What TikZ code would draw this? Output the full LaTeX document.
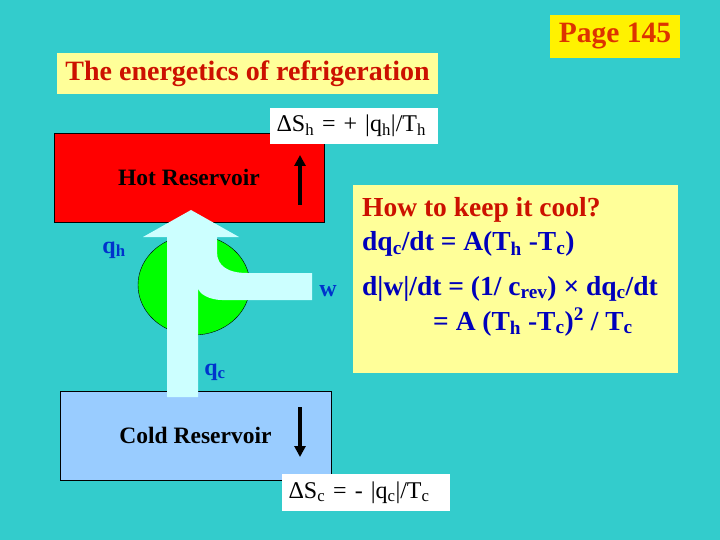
\documentclass[tikz,border=0pt]{standalone}
\usepackage{fontspec}
\setmainfont{Liberation Serif}
\usetikzlibrary{arrows.meta, shapes.geometric, positioning}

\definecolor{slidebg}{HTML}{33CCCC}
\definecolor{paleyellow}{HTML}{FFFF99}
\definecolor{hotred}{HTML}{FF0000}
\definecolor{coldblue}{HTML}{99CCFF}
\definecolor{flowblue}{HTML}{CCFFFF}
\definecolor{enggreen}{HTML}{00FF00}
\definecolor{titlered}{HTML}{CC1100}
\definecolor{pagered}{HTML}{DD3300}
\definecolor{eqblue}{HTML}{0000BB}
\definecolor{labelblue}{HTML}{0033CC}

\newcommand{\lo}[1]{\textsubscript{#1}}
\newcommand{\fs}[1]{\fontsize{#1}{#1}\selectfont}

\tikzset{
  reservoir/.style={draw=black, thin, inner sep=0pt, font=\fs{23.5}\bfseries},
  entropybox/.style={fill=white, inner ysep=0pt, inner xsep=6.5pt, text width=155pt,
                     align=left, font=\fs{24}},
  flowlabel/.style={text=labelblue, font=\fs{24}\bfseries, inner sep=0pt},
  eqline/.style={anchor=base west, inner sep=0pt, text=eqblue, font=\fs{27.5}\bfseries},
  entropyarrow/.style={line width=4pt, -{Triangle[length=11pt,width=11pt]}}
}

\begin{document}
\begin{tikzpicture}[x=1pt,y=-1pt]
\useasboundingbox (0,0) rectangle (720,540);
\fill[slidebg] (0,0) rectangle (720,540);

% Page number
\node[fill=yellow, minimum width=130pt, minimum height=43pt, inner sep=0pt,
      text=pagered, font=\fs{29.5}\bfseries] (page) at (615,36.5) {Page 145};

% Title
\node[fill=paleyellow, minimum width=381pt, minimum height=41pt, inner sep=0pt,
      text=titlered, font=\fs{28}\bfseries] (title) at (247.5,73.5) {The energetics of refrigeration};

% Reservoirs
\node[reservoir, fill=hotred, minimum width=270pt, minimum height=89pt] (hot) at (189,177.5) {Hot Reservoir};
\node[reservoir, fill=coldblue, minimum width=271pt, minimum height=89pt] (cold) at (195.5,435.5) {Cold Reservoir};

% Entropy change of the hot reservoir
\node[entropybox, minimum height=36pt] (dsh) at (354,126) {ΔS\lo{h} = + |q\lo{h}|/T\lo{h}};
\coordinate (hs) at (300,205);
\coordinate (he) at (300,155);
\draw[entropyarrow] (hs) -- (he);

% Entropy change of the cold reservoir
\coordinate (cs) at (300,407);
\coordinate (ce) at (300,457);
\draw[entropyarrow] (cs) -- (ce);
\node[entropybox, minimum height=37pt] (dsc) at (366,492.5) {ΔS\lo{c} = - |q\lo{c}|/T\lo{c}};

% Engine
\node[draw=black, thin, fill=enggreen, ellipse, minimum width=112pt, minimum height=100pt,
      inner sep=0pt] (engine) at (194,285) {};

% Heat and work flow
\fill[flowblue] (167,397) -- (167,237) -- (143,237) -- (191,210) -- (239,237) -- (217,237)
  -- (217,252) .. controls (217,266) and (228,273) .. (247,273) -- (312,273) -- (312,300)
  -- (222,300) .. controls (210,300) and (198,294) .. (198,287) -- (198,397) -- cycle;

\node[flowlabel] (qh) at (114,250) {q\lo{h}};
\node[flowlabel] (w) at (328,291) {w};
\node[flowlabel] (qc) at (215,372) {q\lo{c}};

% How to keep it cool
\node[fill=paleyellow, minimum width=325pt, minimum height=188pt, inner sep=0pt] (info) at (515.5,279) {};
\node[eqline, text=titlered] (how) at (362,216) {How to keep it cool?};
\node[eqline] (rate) at (362,251) {dq\lo{c}/dt = A(T\lo{h} -T\lo{c})};
\node[eqline] (work) at (362,295) {d|w|/dt = (1/ c\lo{rev}) × dq\lo{c}/dt};
\node[eqline] (work2) at (433,330) {= A (T\lo{h} -T\lo{c})\textsuperscript{2} / T\lo{c}};

\end{tikzpicture}
\end{document}
